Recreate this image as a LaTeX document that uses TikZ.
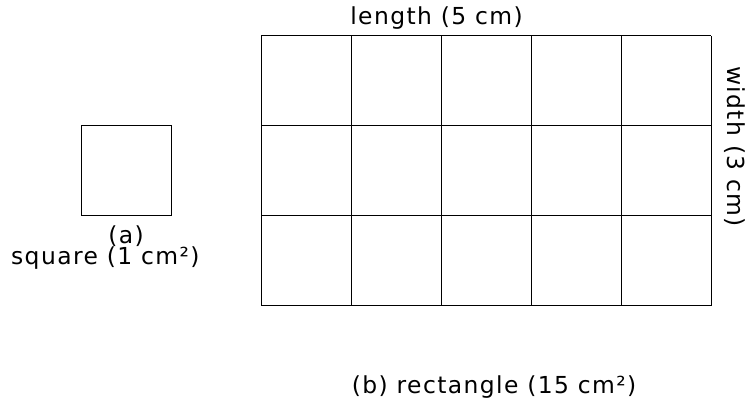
\documentclass[tikz,border=0pt]{standalone}
\usepackage{fontspec}
\setmainfont{DejaVu Sans}[LetterSpace=6]

\begin{document}
\begin{tikzpicture}[line width=0.3pt, every node/.style={font=\fontsize{7.4}{8.5}\selectfont, inner sep=0pt}]
  \useasboundingbox (0,0) rectangle (8.289,4.489);
  % cuadrado unidad
  \draw (0.9,2.09) rectangle (1.9,3.09);
  \node (a) at (1.4,1.87) {(a)};
  \node (sq) at (1.17,1.62) {square (1 cm²)};
  % rectangulo 5 x 3
  \draw[shift={(2.9,1.09)}] (0,0) grid (5,3);
  \node (len) at (4.85,4.29) {length (5 cm)};
  \node[rotate=-90] (wid) at (8.17,2.86) {width (3 cm)};
  \node (b) at (5.49,0.19) {(b) rectangle (15 cm²)};
\end{tikzpicture}
\end{document}
